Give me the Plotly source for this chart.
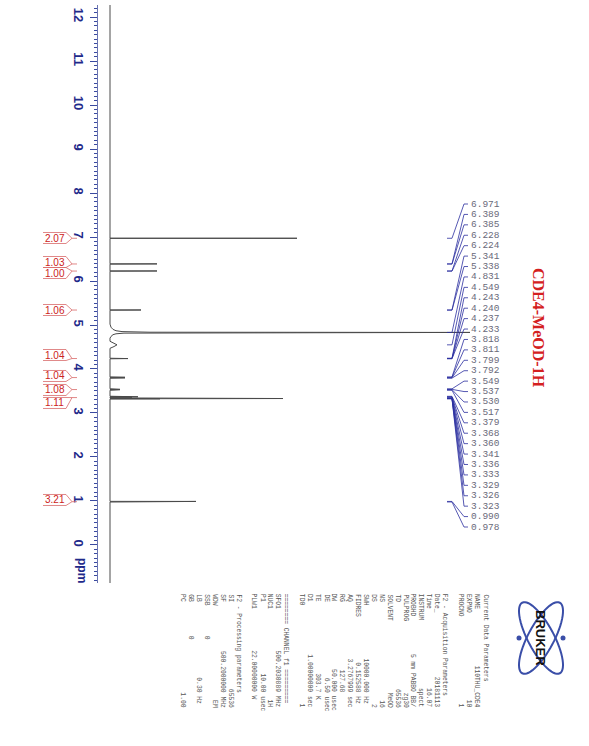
import plotly.graph_objects as go
import math

# ---------------- data ----------------
peak_labels = ["6.971", "6.389", "6.385", "6.228", "6.224", "5.341", "5.338", "4.831",
               "4.549", "4.243", "4.240", "4.237", "4.233", "3.818", "3.811", "3.799",
               "3.792", "3.549", "3.537", "3.530", "3.517", "3.379", "3.368", "3.360",
               "3.341", "3.336", "3.333", "3.329", "3.326", "3.323", "0.990", "0.978"]

# sharp lines (ppm, relative intensity)
sharp_ppm = [6.971, 6.389, 6.385, 6.228, 6.224, 5.341, 5.338,
             4.243, 4.240, 4.237, 4.233, 3.818, 3.811, 3.799, 3.792,
             3.549, 3.537, 3.530, 3.517, 3.379, 3.368, 3.360, 3.341,
             3.336, 3.333, 3.329, 3.326, 3.323, 0.990, 0.978]
sharp_int = [187, 47, 45, 47, 46, 31, 30,
             18, 17, 18, 16, 14, 15, 15, 13,
             9, 10, 10, 8, 25, 28, 22, 20,
             60, 120, 173, 110, 50, 86, 84]

# broad solvent (HDO) signal, read point by point
water_ppm = [5.02, 4.95, 4.90, 4.87, 4.85, 4.836, 4.831, 4.826, 4.815, 4.80, 4.78, 4.74, 4.70]
water_int = [0, 1, 3, 6, 12, 40, 360, 40, 14, 6, 3, 1, 0]
# broad exchangeable signal at 4.549
bump_ppm = [4.63, 4.59, 4.549, 4.51, 4.47]
bump_int = [0, 4, 7, 4, 0]

integral_values = ["2.07", "1.03", "1.00", "1.06", "1.04", "1.04", "1.08", "1.11", "3.21"]
integral_ppm = [6.971, 6.387, 6.226, 5.340, 4.238, 3.805, 3.533, 3.350, 0.984]

axis_ticks = [0, 1, 2, 3, 4, 5, 6, 7, 8, 9, 10, 11, 12]
ppm_min, ppm_max = -0.864, 12.273

title_text = "CDE4-MeOD-1H"

param_lines = [
    ("T", "Current Data Parameters"),
    ("P", "NAME", "110THU_CDE4", None),
    ("P", "EXPNO", "10", None),
    ("P", "PROCNO", "1", None),
    ("B",),
    ("T", "F2 - Acquisition Parameters"),
    ("P", "Date_", "20181113", None),
    ("P", "Time", "16.07", None),
    ("P", "INSTRUM", "spect", None),
    ("P", "PROBHD", "5 mm PABBO BB/", None),
    ("P", "PULPROG", "zg30", None),
    ("P", "TD", "65536", None),
    ("P", "SOLVENT", "MeOD", None),
    ("P", "NS", "16", None),
    ("P", "DS", "2", None),
    ("P", "SWH", "10000.000", "Hz"),
    ("P", "FIDRES", "0.152588", "Hz"),
    ("P", "AQ", "3.2767999", "sec"),
    ("P", "RG", "127.68", ""),
    ("P", "DW", "50.000", "usec"),
    ("P", "DE", "6.50", "usec"),
    ("P", "TE", "303.7", "K"),
    ("P", "D1", "1.00000000", "sec"),
    ("P", "TD0", "1", None),
    ("B",),
    ("T", "======== CHANNEL f1 ========="),
    ("P", "SFO1", "500.2030889", "MHz"),
    ("P", "NUC1", "1H", None),
    ("P", "P1", "10.00", "usec"),
    ("P", "PLW1", "22.00000000", "W"),
    ("B",),
    ("T", "F2 - Processing parameters"),
    ("P", "SI", "65536", None),
    ("P", "SF", "500.2000000", "MHz"),
    ("P", "WDW", "EM", None),
    ("L", "SSB", "0"),
    ("P", "LB", "0.30", "Hz"),
    ("L", "GB", "0"),
    ("P", "PC", "1.00", None),
]

# ---------------- layout helpers (pixel -> paper) ----------------
W, H = 589, 746
def px(x):
    return x / W
def py(y):
    return 1 - y / H
def pix2ppm(y):          # layout pixel row -> ppm (for placing labels only)
    return (545 - y) / 44.0

NB = "\u00a0"

fig = go.Figure()

# ---------------- spectrum ----------------
segments = []
for p, h in zip(sharp_ppm, sharp_int):
    segments.append([(p + 0.0015, 0), (p, h), (p - 0.0015, 0)])
segments.append(list(zip(water_ppm, water_int)))
segments.append(list(zip(bump_ppm, bump_int)))
segments.sort(key=lambda s: -s[0][0])
sx, sy = [0], [ppm_max]
for seg in segments:
    for p, v in seg:
        sy.append(p)
        sx.append(v)
sx.append(0)
sy.append(ppm_min)
fig.add_trace(go.Scatter(x=sx, y=sy, mode="lines",
                         line=dict(color="#4a4a4a", width=1),
                         hoverinfo="skip", showlegend=False))

# ---------------- peak labels with leader lines ----------------
lx, ly = [], []
label_y0, label_dy = 204.0, 10.42
for i, lab in enumerate(peak_labels):
    p = float(lab)
    yl = pix2ppm(label_y0 + i * label_dy)
    lx += [337, 342, 354, 358, None]
    ly += [p, p, yl, yl, None]
    fig.add_annotation(x=359, y=yl, xref="x", yref="y", text=lab, showarrow=False,
                       xanchor="left", yanchor="middle",
                       font=dict(family="Liberation Mono", size=9.5, color="#6a6a7a"))
fig.add_trace(go.Scatter(x=lx, y=ly, mode="lines",
                         line=dict(color="#2b2fa0", width=0.8),
                         hoverinfo="skip", showlegend=False))

# ---------------- integrals ----------------
integral_label_y = [238, 262, 273, 310, 355, 376, 390, 403, 500]
for val, pc, yl in zip(integral_values, integral_ppm, integral_label_y):
    yt = pix2ppm(yl - 5.5)
    yb = pix2ppm(yl + 5.5)
    path = (f"M {px(43)},{yt} L {px(66)},{yt} L {px(72)},{pc} L {px(77)},{pc} "
            f"M {px(72)},{pc} L {px(66)},{yb} L {px(43)},{yb}")
    fig.add_shape(type="path", path=path, xref="paper", yref="y",
                  line=dict(color="#d86a6a", width=0.8))
    fig.add_annotation(x=px(54.5), y=pix2ppm(yl), xref="paper", yref="y", text=val,
                       showarrow=False, xanchor="center", yanchor="middle",
                       font=dict(family="Liberation Sans", size=10, color="#cc2222"))

# ---------------- ppm axis label ----------------
fig.add_annotation(x=px(82), y=py(570), xref="paper", yref="paper", text="<b>ppm</b>",
                   showarrow=False, textangle=90, xanchor="center", yanchor="middle",
                   font=dict(family="Liberation Sans", size=12, color="#1f2a8a"))

# ---------------- title ----------------
fig.add_annotation(x=px(539), y=py(328), xref="paper", yref="paper", text=f"<b>{title_text}</b>",
                   showarrow=False, textangle=90, xanchor="center", yanchor="middle",
                   font=dict(family="Liberation Serif", size=16, color="#d42020"))

# ---------------- parameter block ----------------
for i, item in enumerate(param_lines):
    kind = item[0]
    if kind == "B":
        continue
    if kind == "T":
        s = item[1]
    elif kind == "L":
        s = item[1].ljust(11) + item[2]
    else:
        name, val, unit = item[1], item[2], item[3]
        if unit is None:
            s = name.ljust(8) + val.rjust(22)
        else:
            s = name.ljust(8) + val.rjust(18) + " " + unit
    s = s.replace(" ", NB)
    fig.add_annotation(x=px(485 - i * 7.95), y=py(592), xref="paper", yref="paper",
                       text=s, showarrow=False, textangle=90,
                       xanchor="center", yanchor="top",
                       font=dict(family="Liberation Mono", size=6.3, color="#555555"))

# ---------------- Bruker logo (decoration) ----------------
cx, cy = 541, 638
for ang in (28, -28):
    pts = []
    a = math.radians(ang)
    for k in range(61):
        t = 2 * math.pi * k / 60
        ex, ey = 13 * math.cos(t), 40 * math.sin(t)
        X = cx + ex * math.cos(a) - ey * math.sin(a)
        Y = cy + ex * math.sin(a) + ey * math.cos(a)
        pts.append((px(X), py(Y)))
    path = "M " + " L ".join(f"{x},{y}" for x, y in pts) + " Z"
    fig.add_shape(type="path", path=path, xref="paper", yref="paper",
                  line=dict(color="#3a4ea8", width=2))
for dxp in (-22, 22):
    fig.add_shape(type="circle", xref="paper", yref="paper",
                  x0=px(cx + dxp - 2.5), x1=px(cx + dxp + 2.5),
                  y0=py(cy + 2.5), y1=py(cy - 2.5),
                  fillcolor="#3a4ea8", line=dict(width=0))
fig.add_annotation(x=px(cx), y=py(cy), xref="paper", yref="paper", text="<b>BRUKER</b>",
                   showarrow=False, textangle=90, xanchor="center", yanchor="middle",
                   font=dict(family="Liberation Sans", size=13, color="#111111"))

# ---------------- axes ----------------
fig.update_layout(
    width=W, height=H,
    margin=dict(l=0, r=0, t=0, b=0, autoexpand=False),
    paper_bgcolor="white", plot_bgcolor="white",
    showlegend=False,
    xaxis=dict(domain=[px(98), px(480)], range=[-12, 370], visible=False,
               fixedrange=True, automargin=False),
    yaxis=dict(domain=[py(583), py(5)], range=[ppm_min, ppm_max], automargin=False,
               tickmode="array", tickvals=axis_ticks, ticktext=[str(t) for t in axis_ticks],
               tickangle=90, ticks="outside", ticklen=7, tickwidth=1, tickcolor="#3a4aa0",
               showline=True, linecolor="#6a74b0", linewidth=1,
               showgrid=False, zeroline=False,
               tickfont=dict(family="Liberation Sans", size=13, color="#1f2a8a", weight="bold"),
               minor=dict(dtick=0.1, tick0=0, ticks="outside", ticklen=3, tickcolor="#3a4aa0",
                          showgrid=False),
               fixedrange=True),
)

fig.write_html("out.html", config={"displayModeBar": False},
               post_script="document.body.style.margin='0px';document.body.style.overflow='hidden';")
